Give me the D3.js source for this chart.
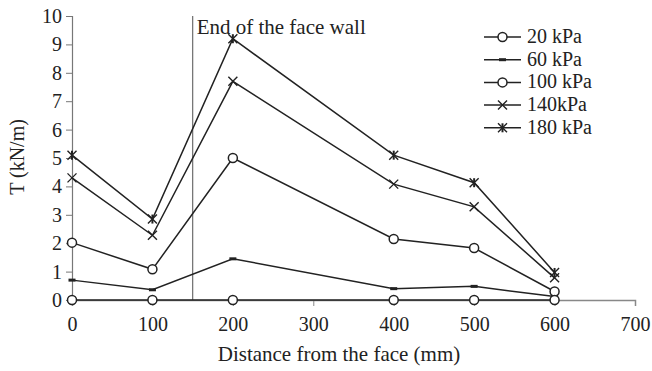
<!DOCTYPE html>
<html>
<head>
<meta charset="utf-8">
<script src="https://cdn.jsdelivr.net/npm/d3@7"></script>
<style>
    body { margin: 0; background: #fff; }
    text { font-family: "Liberation Serif", "Times New Roman", serif; fill: #222; }
</style>
</head>
<body>
<div id="chart"></div>
<script>
// distances from the face (mm)
var distances = [0, 100, 200, 400, 500, 600]
var seriesNames = ["20 kPa", "60 kPa", "100 kPa", "140kPa", "180 kPa"]
var seriesMarkers = ["circle", "dash", "circle", "cross", "star"]
var t20 = [0, 0, 0, 0, 0, 0]
var t60 = [0.7, 0.36, 1.45, 0.4, 0.48, 0.12]
var t100 = [2.02, 1.08, 5.0, 2.15, 1.83, 0.3]
var t140 = [4.3, 2.28, 7.7, 4.08, 3.28, 0.78]
var t180 = [5.1, 2.85, 9.2, 5.1, 4.13, 0.97]
var xTicks = [0, 100, 200, 300, 400, 500, 600, 700]
var yTicks = [0, 1, 2, 3, 4, 5, 6, 7, 8, 9, 10]
var wallEnd = 150
var wallLabel = "End of the face wall"

var values = [t20, t60, t100, t140, t180]

var width = 652, height = 371
var margin = {top: 16, right: 17, bottom: 71, left: 72}
var w = width - margin.left - margin.right
var h = height - margin.top - margin.bottom

var svg = d3.select("#chart").append("svg")
    .attr("width", width)
    .attr("height", height)

var g = svg.append("g")
    .attr("transform", "translate(" + margin.left + "," + margin.top + ")")

var x = d3.scaleLinear().domain([0, 700]).range([0, w])
var y = d3.scaleLinear().domain([0, 10]).range([h, 0])

// axes
var xAxis = g.append("g")
    .attr("transform", "translate(0," + h + ")")
    .call(d3.axisBottom(x).tickValues(xTicks).tickSize(6).tickPadding(11))
xAxis.select(".domain").attr("stroke", "#888").attr("stroke-width", 1.5)
xAxis.selectAll(".tick line").attr("stroke", "#888")
xAxis.selectAll("text").style("font-size", "20px").attr("fill", "#222")

var yAxis = g.append("g")
    .call(d3.axisLeft(y).tickValues(yTicks).tickSize(6).tickPadding(4))
yAxis.select(".domain").attr("stroke", "#777").attr("stroke-width", 1.2)
yAxis.selectAll(".tick line").attr("stroke", "#777")
yAxis.selectAll("text").style("font-size", "20px").attr("fill", "#222")

// axis titles
svg.append("text")
    .attr("x", 339)
    .attr("y", 361)
    .attr("text-anchor", "middle")
    .style("font-size", "21px")
    .text("Distance from the face (mm)")

svg.append("text")
    .attr("transform", "translate(24,157) rotate(-90)")
    .attr("text-anchor", "middle")
    .style("font-size", "20px")
    .text("T (kN/m)")

// end of face wall
g.append("line")
    .attr("x1", x(wallEnd)).attr("x2", x(wallEnd))
    .attr("y1", y(10)).attr("y2", y(0))
    .attr("stroke", "#777").attr("stroke-width", 1.3)
g.append("text")
    .attr("x", x(wallEnd) + 4)
    .attr("y", y(10) + 18)
    .style("font-size", "21px")
    .text(wallLabel)

function drawMarker(sel, type, cx, cy) {
    if (type == "circle") {
        sel.append("circle").attr("cx", cx).attr("cy", cy).attr("r", 4.5)
            .attr("fill", "#fff").attr("stroke", "#222").attr("stroke-width", 1.5)
    } else if (type == "dash") {
        sel.append("rect").attr("x", cx - 3.5).attr("y", cy - 1.5).attr("width", 7).attr("height", 3)
            .attr("fill", "#222")
    } else {
        var s = 4.5
        sel.append("path")
            .attr("d", "M" + (cx - s) + "," + (cy - s) + "L" + (cx + s) + "," + (cy + s) +
                "M" + (cx - s) + "," + (cy + s) + "L" + (cx + s) + "," + (cy - s))
            .attr("stroke", "#222").attr("stroke-width", 1.4).attr("fill", "none")
        if (type == "star") {
            sel.append("path")
                .attr("d", "M" + cx + "," + (cy - s) + "L" + cx + "," + (cy + s))
                .attr("stroke", "#222").attr("stroke-width", 2).attr("fill", "none")
        }
    }
}

var line = d3.line()
    .x(function (d) { return x(d[0]) })
    .y(function (d) { return y(d[1]) })

// draw the series from top to bottom so the zero line stays on top
for (var i = values.length - 1; i >= 0; i--) {
    var pts = distances.map(function (d, j) { return [d, values[i][j]] })
    g.append("path")
        .datum(pts)
        .attr("d", line)
        .attr("fill", "none")
        .attr("stroke", "#222")
        .attr("stroke-width", 1.5)
    var mg = g.append("g")
    pts.forEach(function (p) {
        drawMarker(mg, seriesMarkers[i], x(p[0]), y(p[1]))
    })
}

// legend
var legend = svg.append("g").attr("transform", "translate(484,37)")
seriesNames.forEach(function (name, i) {
    var ly = i * 22.7
    legend.append("line")
        .attr("x1", 0).attr("x2", 37)
        .attr("y1", ly).attr("y2", ly)
        .attr("stroke", "#222").attr("stroke-width", 1.5)
    drawMarker(legend, seriesMarkers[i], 18.5, ly)
    legend.append("text")
        .attr("x", 43)
        .attr("y", ly + 6)
        .style("font-size", "20px")
        .text(name)
})
</script>
</body>
</html>
